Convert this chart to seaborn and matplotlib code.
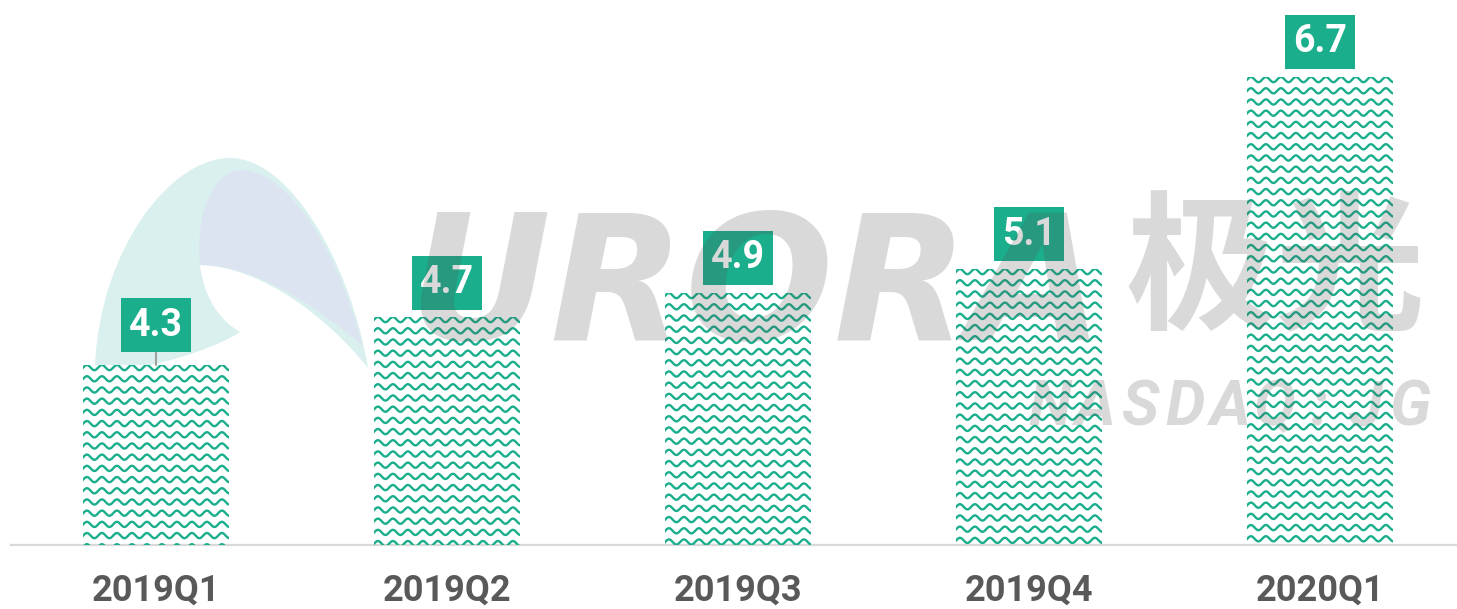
import numpy as np
import pandas as pd
import matplotlib
matplotlib.use("Agg")
import matplotlib.pyplot as plt
from matplotlib.path import Path
from matplotlib.patches import PathPatch, Rectangle
from matplotlib.transforms import Affine2D, offset_copy
import seaborn as sns

# -------------------------------- DATA --------------------------------
quarters = ["2019Q1", "2019Q2", "2019Q3", "2019Q4", "2020Q1"]
values = [4.3, 4.7, 4.9, 5.1, 6.7]
value_labels = ["4.3", "4.7", "4.9", "5.1", "6.7"]

df = pd.DataFrame({"quarter": quarters, "value": values})

# ------------------------------- STYLE --------------------------------
W, H = 1457, 609
GREEN = "#1aae8c"
GRAY_TXT = "#595959"

sns.set_theme(style="white")
plt.rcParams["font.family"] = ["Roboto", "Noto Sans CJK SC", "DejaVu Sans"]

fig = plt.figure(figsize=(W / 100, H / 100), dpi=100)
# pixel -> figure fraction helper (y measured from the top)
pix = Affine2D().scale(1 / W, -1 / H).translate(0, 1) + fig.transFigure

ax = fig.add_axes([11 / W, (H - 545) / H, 1446 / W, 545 / H])
ax.patch.set_alpha(0)
ax.set_zorder(1)

# ------------------------------ LOGO (watermark, behind) --------------
outer = Path(
    [(95, 365), (100, 250), (170, 158), (230, 158),
     (290, 158), (350, 262), (368, 368),
     (330, 320), (262, 266), (200, 265),
     (204, 300), (222, 322), (240, 332),
     (220, 346), (175, 360), (150, 365),
     (95, 365), (95, 365)],
    [Path.MOVETO, Path.CURVE4, Path.CURVE4, Path.CURVE4,
     Path.CURVE4, Path.CURVE4, Path.CURVE4,
     Path.CURVE4, Path.CURVE4, Path.CURVE4,
     Path.CURVE4, Path.CURVE4, Path.CURVE4,
     Path.CURVE4, Path.CURVE4, Path.CURVE4,
     Path.LINETO, Path.CLOSEPOLY])
fig.patches.append(PathPatch(outer, transform=pix, facecolor="#d9f0ef",
                             edgecolor="none", zorder=0))
inner = Path(
    [(200, 265), (195, 212), (214, 172), (240, 170),
     (292, 170), (342, 262), (362, 345),
     (322, 312), (262, 266), (200, 265), (200, 265)],
    [Path.MOVETO, Path.CURVE4, Path.CURVE4, Path.CURVE4,
     Path.CURVE4, Path.CURVE4, Path.CURVE4,
     Path.CURVE4, Path.CURVE4, Path.CURVE4, Path.CLOSEPOLY])
fig.patches.append(PathPatch(inner, transform=pix, facecolor="#dce4f1",
                             edgecolor="none", zorder=0))

# -------------------------------- BARS --------------------------------
sns.barplot(data=df, x="quarter", y="value", color="white", width=0.5,
            saturation=1, ax=ax)

ymin, ymax = 2.8, 2.8 + 545 / 120
ax.set_ylim(ymin, ymax)
ax.set_xlim(-0.498, 4.471)

# wavy fill pattern, clipped to the visible part of each bar
px_x = 1 / 291   # data units per pixel (x)
px_y = 1 / 120   # data units per pixel (y)
period, amp, gap = 15 * px_x, 2.6 * px_y, 11.2 * px_y
for bar in ax.patches[:len(values)]:
    bar.set_facecolor("none")
    bar.set_edgecolor("none")
    x0, w = bar.get_x(), bar.get_width()
    top = bar.get_height()
    clip = Rectangle((x0, ymin), w, top - ymin, transform=ax.transData)
    xs = np.linspace(x0 - period, x0 + w + period, 400)
    y = top - amp
    while y > ymin - gap:
        line, = ax.plot(xs, y + amp * np.sin(2 * np.pi * (xs - x0) / period),
                        color=GREEN, lw=1.7, solid_capstyle="butt", zorder=3)
        line.set_clip_path(clip)
        y -= gap

# value labels in green boxes
label_gaps = [13, 7, 8, 8, 8]
for i, (v, lab) in enumerate(zip(values, value_labels)):
    g = label_gaps[i]
    ax.text(i, v, lab,
            transform=offset_copy(ax.transData, fig=fig, x=0,
                                  y=(g + 27) * 0.72, units="points"),
            ha="center", va="center", fontsize=27, fontweight="bold",
            color="white", zorder=6,
            bbox=dict(boxstyle="square,pad=0.22", facecolor=GREEN,
                      edgecolor="none"))
    if g > 10:
        ax.plot([i, i], [v, v + g * px_y], color="#a0a0a0", lw=1.5, zorder=5)

# axis styling
sns.despine(ax=ax, left=True, top=True, right=True)
ax.spines["bottom"].set_color("#d9d9d9")
ax.spines["bottom"].set_linewidth(1.6)
ax.set_yticks([])
ax.set_xlabel("")
ax.set_ylabel("")
ax.tick_params(axis="x", length=0, pad=20)
for t in ax.get_xticklabels():
    t.set_fontsize(26)
    t.set_fontweight("bold")
    t.set_color(GRAY_TXT)

# --------------------------- WATERMARK TEXT (on top) ------------------
wm = dict(color="#525252", alpha=0.22, zorder=20, transform=pix)
fig.text(408, 340, "URORA", ha="left", va="baseline", fontsize=126,
         fontweight="bold", fontstyle="oblique", family="DejaVu Sans", **wm)
fig.text(1125, 275, "极光", ha="left", va="center", fontsize=108,
         fontweight="bold", family=["Noto Sans CJK SC", "DejaVu Sans"], **wm)
for k, ch in enumerate("NASDAQ:JG"):
    fig.text(1050 + 45 * k, 408, ch, ha="center", va="center", fontsize=45,
             fontweight="bold", fontstyle="italic", **wm)

fig.savefig("out.png", dpi=100)
